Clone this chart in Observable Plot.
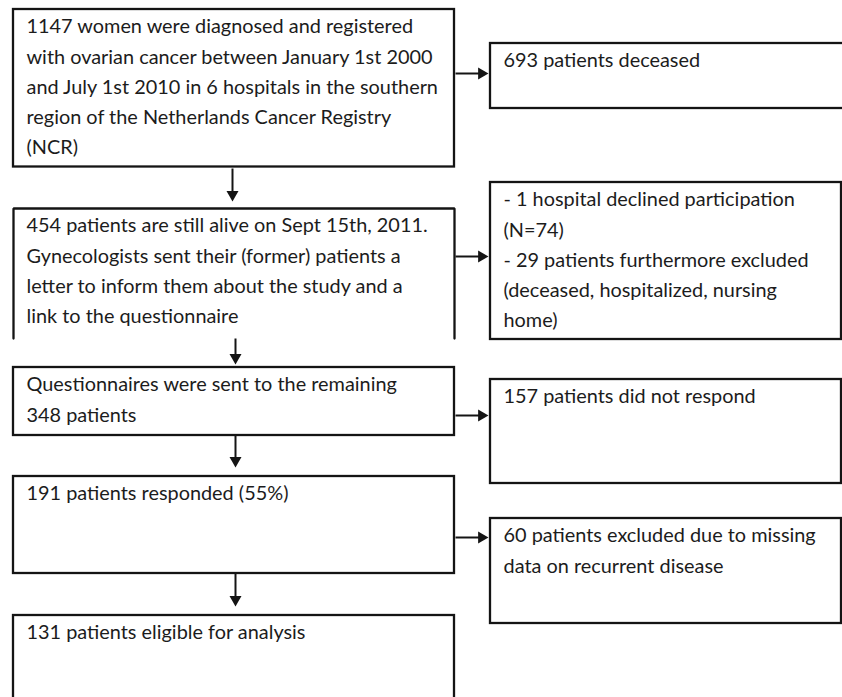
<!DOCTYPE html>
<html>
<head>
<meta charset="utf-8">
<script src="https://cdn.jsdelivr.net/npm/d3@7"></script>
<script src="https://cdn.jsdelivr.net/npm/@observablehq/plot@0.6"></script>
<style>
  html, body { margin: 0; padding: 0; background: #fff; }
  #chart svg { display: block; }
</style>
</head>
<body>
<div id="chart"></div>
<script>
// ---- Data: flow steps (left column) and exclusions (right column) ----
const stepTexts = [
  ["1147 women were diagnosed and registered",
   "with ovarian cancer between January 1st 2000",
   "and July 1st 2010 in 6 hospitals in the southern",
   "region of the Netherlands Cancer Registry",
   "(NCR)"],
  ["454 patients are still alive on Sept 15th, 2011.",
   "Gynecologists sent their (former) patients a",
   "letter to inform them about the study and a",
   "link to the questionnaire"],
  ["Questionnaires were sent to the remaining",
   "348 patients"],
  ["191 patients responded (55%)"],
  ["131 patients eligible for analysis"]
];
const exclusionTexts = [
  ["693 patients deceased"],
  ["- 1 hospital declined participation",
   "(N=74)",
   "- 29 patients furthermore excluded",
   "(deceased, hospitalized, nursing",
   "home)"],
  ["157 patients did not respond"],
  ["60 patients excluded due to missing",
   "data on recurrent disease"]
];

// ---- Layout (pixel coordinates of the diagram) ----
const W = 842, H = 697;
const leftCol = {x1: 13, x2: 454, textX: 26};
const rightCol = {x1: 490, x2: 841, textX: 503};
const stepLayout = [
  {top: 9, bottom: 166.5},
  {top: 208, bottom: 338, open: true},
  {top: 367, bottom: 435},
  {top: 476, bottom: 573},
  {top: 615, bottom: 710}
];
const exclusionLayout = [
  {top: 43, bottom: 108, x2: 850},
  {top: 182, bottom: 339},
  {top: 379, bottom: 483},
  {top: 518, bottom: 623}
];
const downArrows = [
  {x: 232, y1: 168, tip: 201},
  {x: 235, y1: 338, tip: 364},
  {x: 235, y1: 435, tip: 467},
  {x: 235, y1: 573, tip: 606}
];
const rightArrows = [
  {y: 73, x1: 455, tip: 488},
  {y: 256, x1: 455, tip: 488},
  {y: 415, x1: 455, tip: 488},
  {y: 537, x1: 455, tip: 488}
];
const lineStep = 30.2, firstLine = 17.5;

// ---- Font size fitted to the reference line width ----
const family = "Lato, 'Open Sans', 'DejaVu Sans', sans-serif";
const ctx = document.createElement("canvas").getContext("2d");
ctx.font = `100px ${family}`;
const fs = 100 * 408 / ctx.measureText("with ovarian cancer between January 1st 2000").width;

// ---- Build mark tables ----
const closedBoxes = [];
const openBoxes = [];
const textRows = [];
stepTexts.forEach((lines, i) => {
  const b = stepLayout[i];
  if (b.open) {
    openBoxes.push(
      {k: i, x: leftCol.x1, y: b.bottom},
      {k: i, x: leftCol.x1, y: b.top},
      {k: i, x: leftCol.x2, y: b.top},
      {k: i, x: leftCol.x2, y: b.bottom});
  } else {
    closedBoxes.push({x1: leftCol.x1, x2: leftCol.x2, y1: b.top, y2: b.bottom});
  }
  lines.forEach((t, j) => textRows.push({x: leftCol.textX, y: b.top + firstLine + j * lineStep, text: t}));
});
exclusionTexts.forEach((lines, i) => {
  const b = exclusionLayout[i];
  closedBoxes.push({x1: rightCol.x1, x2: b.x2 ?? rightCol.x2, y1: b.top, y2: b.bottom});
  lines.forEach((t, j) => textRows.push({x: rightCol.textX, y: b.top + firstLine + j * lineStep, text: t}));
});

// arrowheads: d3 triangle of side s
const side = 12;
const yk = side / (2 * Math.sqrt(3));           // |y| in d3.symbolTriangle
const tipOff = 2 * yk;                           // centre-to-tip distance
const headLen = 3 * yk;
const rHead = Math.sqrt(3 * Math.sqrt(3) * yk * yk / Math.PI);

const shafts = [
  ...downArrows.map(a => ({x1: a.x, x2: a.x, y1: a.y1, y2: a.tip - headLen + 2})),
  ...rightArrows.map(a => ({x1: a.x1, x2: a.tip - headLen + 2, y1: a.y, y2: a.y}))
];
const heads = [
  ...downArrows.map(a => ({x: a.x, y: a.tip - tipOff, rot: 180})),
  ...rightArrows.map(a => ({x: a.tip - tipOff, y: a.y, rot: 90}))
];

const ink = "#141414";
const chart = Plot.plot({
  width: W, height: H, margin: 0,
  x: {domain: [0, W], range: [0, W]},
  y: {domain: [0, H], range: [0, H]},
  axis: null,
  style: {background: "#fff", overflow: "hidden"},
  marks: [
    Plot.rect(closedBoxes, {x1: "x1", x2: "x2", y1: "y1", y2: "y2", fill: "#fff", stroke: ink, strokeWidth: 2.3}),
    Plot.line(openBoxes, {x: "x", y: "y", z: "k", stroke: ink, strokeWidth: 2.3, strokeLinejoin: "miter", curve: "linear"}),
    Plot.link(shafts, {x1: "x1", x2: "x2", y1: "y1", y2: "y2", stroke: ink, strokeWidth: 2}),
    Plot.dot(heads, {x: "x", y: "y", rotate: "rot", symbol: "triangle", r: rHead, fill: ink, stroke: "none"}),
    Plot.text(textRows, {x: "x", y: "y", text: "text", textAnchor: "start", lineAnchor: "middle",
      fontSize: fs, fontFamily: family, fill: "#1c1c1c"})
  ]
});
document.getElementById("chart").appendChild(chart);
</script>
</body>
</html>
